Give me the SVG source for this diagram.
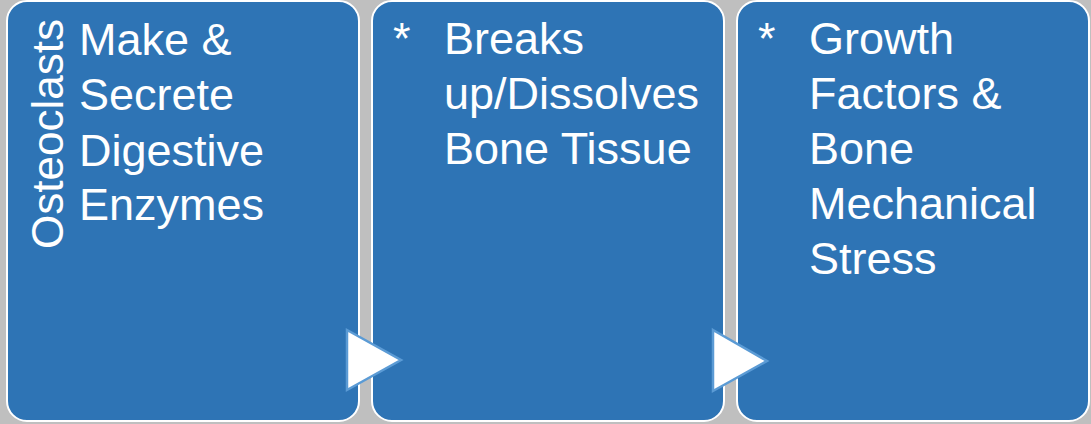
<svg xmlns="http://www.w3.org/2000/svg" width="1091" height="424" viewBox="0 0 1091 424">
<style>
.box{fill:#2E74B5;stroke:#FFFFFF;stroke-width:2}
.t{font-family:"Liberation Sans",Arial,sans-serif;font-size:45px;fill:#FFFFFF}
.arr{fill:#FFFFFF;stroke:#5B9BD5;stroke-width:2.5;stroke-linejoin:miter}
</style>
<rect width="1091" height="424" fill="#BFBFBF"/>
<g id="node1">
<rect class="box" x="7" y="1" width="352" height="420" rx="20" ry="20"/>
<text class="t" transform="translate(63,249) rotate(-90)" textLength="230" lengthAdjust="spacingAndGlyphs">Osteoclasts</text>
<text class="t" x="79" y="55">Make &amp;</text>
<text class="t" x="79" y="110">Secrete</text>
<text class="t" x="79" y="166">Digestive</text>
<text class="t" x="79" y="220">Enzymes</text>
</g>
<g id="node2">
<rect class="box" x="372" y="1" width="352" height="420" rx="20" ry="20"/>
<text class="t" x="393" y="54">*</text>
<text class="t" x="444" y="54">Breaks</text>
<text class="t" x="444" y="109">up/Dissolves</text>
<text class="t" x="444" y="164">Bone Tissue</text>
</g>
<g id="node3">
<rect class="box" x="737" y="1" width="352" height="420" rx="20" ry="20"/>
<text class="t" x="758" y="54">*</text>
<text class="t" x="809" y="54">Growth</text>
<text class="t" x="809" y="109">Factors &amp;</text>
<text class="t" x="809" y="164">Bone</text>
<text class="t" x="809" y="219">Mechanical</text>
<text class="t" x="809" y="274">Stress</text>
</g>
<g id="connectors">
<polygon class="arr" points="347,330 401,360 347,390"/>
<polygon class="arr" points="713,330 767,361 713,391"/>
</g>
</svg>
